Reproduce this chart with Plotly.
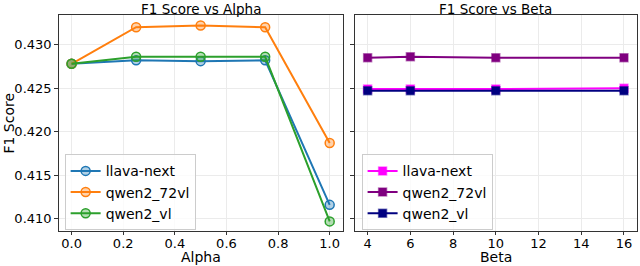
import plotly.graph_objects as go

alpha = [0.0, 0.25, 0.5, 0.75, 1.0]
alpha_llava = [0.4278, 0.4282, 0.4281, 0.4282, 0.4116]
alpha_qwen72 = [0.4278, 0.4320, 0.4322, 0.4320, 0.4187]
alpha_qwen = [0.4278, 0.4286, 0.4286, 0.4286, 0.4097]

beta = [4, 6, 10, 16]
beta_llava = [0.4249, 0.4249, 0.4249, 0.4250]
beta_qwen72 = [0.4285, 0.4286, 0.4285, 0.4285]
beta_qwen = [0.4247, 0.4247, 0.4247, 0.4247]

names = ["llava-next", "qwen2_72vl", "qwen2_vl"]
left_colors = ["#1f77b4", "#ff7f0e", "#2ca02c"]
right_colors = ["#ff00ff", "#800080", "#000080"]

def rgba(h, a):
    h = h.lstrip("#")
    r, g, b = int(h[0:2], 16), int(h[2:4], 16), int(h[4:6], 16)
    return f"rgba({r},{g},{b},{a})"

fig = go.Figure()
for n, ys, c in zip(names, [alpha_llava, alpha_qwen72, alpha_qwen], left_colors):
    fig.add_trace(go.Scatter(x=alpha, y=ys, name=n, mode="lines+markers",
                             line=dict(color=c, width=2),
                             marker=dict(symbol="circle", size=9, color=rgba(c, 0.35),
                                         line=dict(color=c, width=1.5)),
                             xaxis="x", yaxis="y", legend="legend"))
for n, ys, c in zip(names, [beta_llava, beta_qwen72, beta_qwen], right_colors):
    fig.add_trace(go.Scatter(x=beta, y=ys, name=n, mode="lines+markers",
                             line=dict(color=c, width=2),
                             marker=dict(symbol="square", size=8, color=c,
                                         line=dict(color=rgba(c, 0.5), width=1.5)),
                             xaxis="x2", yaxis="y2", legend="legend2"))

axis_common = dict(showline=True, linecolor="#333333", linewidth=1, mirror=True,
                   ticks="outside", ticklen=3.5, tickcolor="#333333",
                   showgrid=True, gridcolor="#ebebeb", gridwidth=1, zeroline=False,
                   tickfont=dict(family="DejaVu Sans", size=13, color="black"))

ydom = [0.1316, 0.9436]
fig.update_layout(
    width=640, height=266,
    margin=dict(l=0, r=0, t=0, b=0),
    paper_bgcolor="white", plot_bgcolor="white",
    font=dict(family="DejaVu Sans", size=13, color="black"),
    xaxis=dict(domain=[0.0917, 0.5353], range=[-0.05, 1.05],
               tickvals=[0, 0.2, 0.4, 0.6, 0.8, 1.0], ticktext=["0.0", "0.2", "0.4", "0.6", "0.8", "1.0"],
               ticklabelstandoff=-3, anchor="y", **axis_common),
    yaxis=dict(domain=ydom, range=[0.4086, 0.4334],
               tickvals=[0.410, 0.415, 0.420, 0.425, 0.430], tickformat=".3f",
               anchor="x", **axis_common),
    xaxis2=dict(domain=[0.5544, 0.9950], range=[3.4, 16.6],
                tickvals=[4, 6, 8, 10, 12, 14, 16], ticklabelstandoff=-3,
                anchor="y2", **axis_common),
    yaxis2=dict(domain=ydom, matches="y", showticklabels=False,
                tickvals=[0.410, 0.415, 0.420, 0.425, 0.430], anchor="x2", **axis_common),
    legend=dict(x=0.101, y=0.42, xanchor="left", yanchor="top", bgcolor="rgba(255,255,255,0.8)",
                bordercolor="#cccccc", borderwidth=1, font=dict(size=14), tracegroupgap=0),
    legend2=dict(x=0.565, y=0.42, xanchor="left", yanchor="top", bgcolor="rgba(255,255,255,0.8)",
                 bordercolor="#cccccc", borderwidth=1, font=dict(size=14), tracegroupgap=0),
    annotations=[
        dict(text="F1 Score vs Alpha", x=0.3135, y=1.0, xref="paper", yref="paper",
             xanchor="center", yanchor="top", showarrow=False, font=dict(size=13.5), borderpad=0),
        dict(text="F1 Score vs Beta", x=0.7747, y=1.0, xref="paper", yref="paper",
             xanchor="center", yanchor="top", showarrow=False, font=dict(size=13.5), borderpad=0),
        dict(text="Alpha", x=0.3135, y=0.0, xref="paper", yref="paper",
             xanchor="center", yanchor="bottom", showarrow=False, font=dict(size=14), borderpad=0),
        dict(text="Beta", x=0.7747, y=0.0, xref="paper", yref="paper",
             xanchor="center", yanchor="bottom", showarrow=False, font=dict(size=14), borderpad=0),
        dict(text="F1 Score", x=0.0134, y=0.5376, xref="paper", yref="paper", textangle=-90,
             xanchor="center", yanchor="middle", showarrow=False, font=dict(size=14)),
    ],
)

fig.write_html("out.html", config={"displayModeBar": False},
               post_script="document.body.style.margin='0';document.body.style.overflow='hidden';")
